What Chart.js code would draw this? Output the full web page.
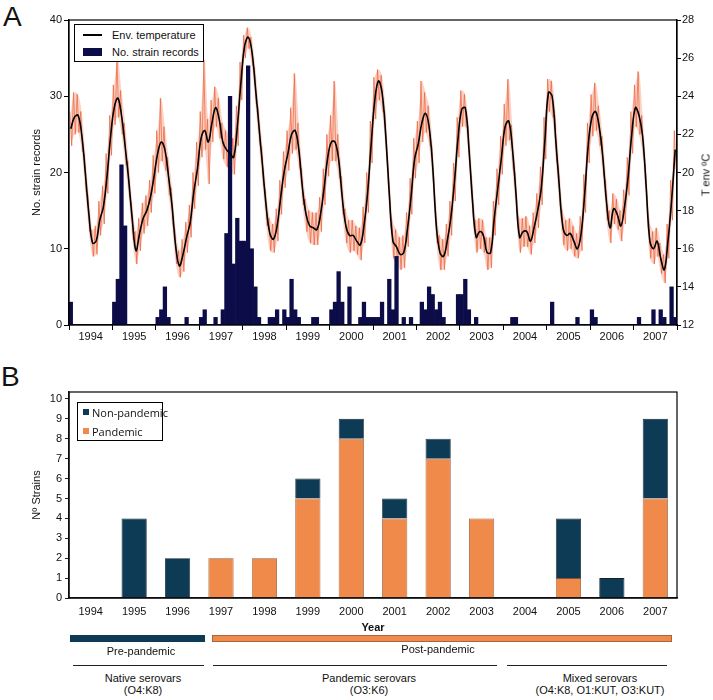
<!DOCTYPE html>
<html>
<head>
<meta charset="utf-8">
<script src="https://cdn.jsdelivr.net/npm/chart.js@4.4.1/dist/chart.umd.min.js"></script>
<style>
  body { margin: 0; background: #fff; font-family: 'Liberation Sans', Arial, sans-serif; color: #111; }
  #wrap { position: relative; width: 713px; height: 700px; overflow: hidden; }
  .abs { position: absolute; white-space: nowrap; line-height: 1; }
  canvas { position: absolute; left: 0; }
  .box { position: absolute; border: 1px solid #000; box-sizing: border-box; background: #fff; }
  .ctr { position: absolute; width: 240px; text-align: center; font-size: 11px; line-height: 12.3px; }
</style>
</head>
<body>
<div id="wrap">
  <div class="abs" style="left:3px;top:3px;font-size:28px">A</div>
  <canvas id="chartA" width="713" height="350" style="top:0"></canvas>

  <div class="box" style="left:74px;top:24px;width:130px;height:38px"></div>
  <div class="abs" style="left:83px;top:34px;width:19px;height:1.5px;background:#000"></div>
  <div class="abs" style="left:112px;top:29.6px;font-size:11px">Env. temperature</div>
  <div class="abs" style="left:83px;top:48px;width:19px;height:8px;background:#0c0c48"></div>
  <div class="abs" style="left:112px;top:46.6px;font-size:11px">No. strain records</div>
  <div class="abs" style="left:706px;top:174.5px;font-size:11px;transform:translate(-50%,-50%) rotate(-90deg)">T env ºC</div>

  <div class="abs" style="left:1px;top:363px;font-size:28px">B</div>
  <canvas id="chartB" width="713" height="280" style="top:360px"></canvas>

  <div class="box" style="left:77px;top:402px;width:86px;height:39px"></div>
  <div class="abs" style="left:83px;top:409px;width:6px;height:6px;background:#0d3a55"></div>
  <div class="abs" style="left:92px;top:406.6px;font-size:11px;font-family:'Open Sans',sans-serif">Non-pandemic</div>
  <div class="abs" style="left:83px;top:428px;width:6px;height:6px;background:#f08a4b"></div>
  <div class="abs" style="left:92px;top:425.6px;font-size:11px;font-family:'Open Sans',sans-serif">Pandemic</div>

  <div class="abs" style="left:70px;top:635px;width:135px;height:7px;background:#0d3a55"></div>
  <div class="abs" style="left:212px;top:635px;width:460px;height:7px;background:#f08a4b;border:1px solid #a8643a;box-sizing:border-box"></div>
  <div class="ctr" style="left:21px;top:644.5px">Pre-pandemic</div>
  <div class="ctr" style="left:318px;top:643px">Post-pandemic</div>

  <div class="abs" style="left:73px;top:664.5px;width:131px;height:1.5px;background:#222"></div>
  <div class="abs" style="left:213px;top:664.5px;width:284px;height:1.5px;background:#222"></div>
  <div class="abs" style="left:507px;top:664.5px;width:160px;height:1.5px;background:#222"></div>
  <div class="ctr" style="left:23px;top:671.5px">Native serovars<br>(O4:K8)</div>
  <div class="ctr" style="left:249px;top:671.5px">Pandemic serovars<br>(O3:K6)</div>
  <div class="ctr" style="left:480px;top:671.5px">Mixed serovars<br>(O4:K8, O1:KUT, O3:KUT)</div>
</div>

<script>
// ---- panel A: monthly records, Jan 1994 .. Dec 2007 ----
const yearLabels = ['1994', '1995', '1996', '1997', '1998', '1999', '2000',
                    '2001', '2002', '2003', '2004', '2005', '2006', '2007'];

const strainRecords = [
  3, 0, 0, 0, 0, 0, 0, 0, 0, 0, 0, 0,      // 1994
  3, 6, 21, 13, 0, 0, 0, 0, 0, 0, 0, 0,    // 1995
  1, 2, 5, 1, 0, 0, 0, 0, 1, 0, 0, 0,      // 1996
  1, 2, 0, 0, 1, 0, 2, 12, 30, 8, 14, 11,  // 1997
  11, 34, 10, 5, 1, 0, 0, 1, 1, 2, 0, 2,   // 1998
  1, 6, 2, 1, 0, 0, 0, 1, 1, 0, 0, 0,      // 1999
  2, 3, 7, 3, 0, 5, 0, 0, 1, 3, 1, 1,      // 2000
  1, 1, 3, 0, 6, 2, 9, 0, 1, 0, 1, 0,      // 2001
  0, 3, 2, 5, 4, 2, 3, 1, 0, 0, 0, 4,      // 2002
  4, 6, 2, 0, 1, 0, 0, 0, 0, 0, 0, 0,      // 2003
  0, 0, 1, 1, 0, 0, 0, 0, 0, 0, 0, 0,      // 2004
  0, 3, 0, 0, 0, 0, 0, 0, 1, 0, 0, 0,      // 2005
  2, 1, 0, 0, 0, 0, 0, 0, 0, 0, 0, 0,      // 2006
  0, 1, 0, 0, 0, 2, 0, 2, 1, 0, 5, 1       // 2007
];

// smoothed environmental temperature (ºC), one value per month
const envTemp = [
  22.3, 22.9, 23.0, 22.0, 20.0, 17.8, 16.3, 16.4, 17.5, 18.2, 19.8, 21.9,
  23.4, 23.9, 23.0, 21.4, 19.6, 17.5, 15.9, 16.8, 17.6, 18.0, 18.7, 19.8,
  21.0, 21.6, 21.2, 19.8, 18.2, 16.1, 15.1, 15.7, 16.6, 17.4, 19.0, 20.2,
  21.8, 22.2, 21.6, 22.6, 23.4, 22.8, 21.6, 21.2, 21.0, 20.8, 22.4, 24.7,
  26.6, 27.1, 26.4, 24.5, 22.4, 20.3, 18.2, 16.8, 16.5, 17.2, 18.7, 20.1,
  21.0, 22.0, 22.2, 21.2, 19.2, 17.8, 17.2, 17.1, 17.0, 17.8, 19.2, 20.8,
  21.6, 21.6, 20.7, 18.7, 17.2, 16.7, 16.7, 16.4, 16.2, 17.2, 18.9, 21.5,
  23.8, 24.8, 24.2, 22.0, 18.9, 16.4, 16.1, 15.7, 15.8, 17.0, 18.7, 20.7,
  21.5, 22.6, 23.1, 22.4, 20.3, 17.2, 15.8, 15.6, 16.4, 17.6, 19.5, 21.8,
  23.3, 23.4, 21.3, 18.5, 16.6, 16.9, 16.7, 15.8, 15.8, 17.6, 19.2, 20.8,
  22.4, 22.7, 21.3, 18.9, 16.6, 16.9, 16.9, 16.4, 17.1, 18.0, 19.2, 21.7,
  24.2, 24.0, 21.7, 19.2, 17.1, 16.7, 16.8, 16.4, 16.0, 16.8, 18.9, 21.5,
  22.9, 23.2, 22.4, 20.8, 18.5, 17.1, 18.1, 17.8, 17.2, 18.2, 19.8, 22.0,
  23.4, 23.0, 21.9, 19.2, 16.4, 16.0, 16.4, 15.5, 14.9, 16.4, 18.5, 21.2
];

// daily readings, kept as the monthly upper and lower extremes of the spread
const dailyHigh = [
  23.2, 24.2, 24.1, 23.2, 21.0, 18.8, 17.0, 17.2, 18.5, 19.3, 21.0, 23.0,
  24.6, 26.0, 24.3, 22.6, 20.6, 18.4, 16.9, 17.6, 18.4, 18.8, 19.6, 20.9,
  22.2, 23.9, 22.4, 20.8, 19.2, 17.0, 15.9, 16.5, 17.4, 18.3, 20.0, 21.6,
  23.2, 25.9, 22.8, 23.8, 24.5, 23.9, 22.6, 22.2, 21.9, 21.8, 23.5, 25.8,
  27.2, 27.6, 27.1, 25.5, 23.4, 21.3, 19.1, 17.6, 17.3, 18.1, 19.6, 21.1,
  22.2, 23.4, 25.2, 22.6, 20.2, 18.6, 18.0, 17.9, 17.9, 18.7, 20.2, 22.0,
  23.0, 24.8, 22.0, 19.8, 18.1, 17.5, 17.5, 17.2, 17.1, 18.2, 20.0, 22.7,
  25.0, 25.4, 25.1, 23.2, 20.0, 17.4, 17.0, 16.6, 16.7, 17.9, 19.7, 21.8,
  22.7, 24.8, 24.2, 23.5, 21.4, 18.2, 16.7, 16.5, 17.3, 18.5, 20.5, 22.9,
  24.3, 24.1, 22.4, 19.6, 17.5, 17.6, 17.5, 16.6, 16.6, 18.5, 20.2, 21.9,
  23.6, 24.9, 22.5, 20.0, 17.6, 17.6, 17.7, 17.2, 17.9, 18.9, 20.3, 22.9,
  24.9, 24.8, 23.0, 20.3, 18.0, 17.5, 17.6, 17.2, 16.8, 17.7, 19.9, 22.6,
  24.1, 24.7, 23.5, 21.9, 19.6, 18.0, 18.9, 18.6, 18.0, 19.1, 20.8, 23.2,
  24.6, 25.3, 23.0, 20.3, 17.4, 16.9, 17.1, 16.3, 15.7, 17.3, 19.6, 22.2
];
const dailyLow = [
  21.4, 22.0, 22.1, 21.1, 19.0, 16.9, 15.6, 15.7, 16.7, 17.3, 18.9, 20.9,
  22.5, 22.9, 22.0, 20.4, 18.7, 16.5, 15.2, 15.9, 16.8, 17.2, 17.9, 18.9,
  20.0, 20.6, 20.1, 18.8, 17.2, 15.2, 14.5, 14.8, 15.8, 16.6, 18.1, 19.3,
  20.8, 21.2, 19.4, 21.6, 22.4, 21.8, 20.7, 20.3, 20.1, 19.9, 21.4, 23.8,
  26.0, 26.5, 25.6, 23.6, 21.4, 19.3, 17.2, 15.9, 15.8, 16.4, 17.8, 19.2,
  20.1, 21.0, 21.2, 20.2, 18.3, 16.9, 16.3, 16.2, 16.2, 16.9, 18.3, 19.8,
  20.6, 20.6, 19.7, 17.8, 16.3, 15.8, 15.9, 15.7, 15.4, 16.3, 17.9, 20.5,
  22.8, 23.8, 23.2, 21.0, 17.9, 15.5, 15.2, 14.9, 15.0, 16.1, 17.8, 19.7,
  20.5, 21.6, 22.1, 21.4, 19.3, 16.3, 14.9, 14.9, 15.6, 16.7, 18.5, 20.8,
  22.4, 22.4, 20.4, 17.6, 15.8, 16.0, 15.8, 14.9, 15.0, 16.7, 18.3, 19.9,
  21.4, 21.7, 20.2, 17.9, 15.8, 16.1, 16.1, 15.7, 16.3, 17.1, 18.3, 20.7,
  23.2, 22.9, 20.6, 18.2, 16.2, 15.9, 16.0, 15.6, 15.5, 15.9, 17.9, 20.5,
  21.9, 22.2, 21.4, 19.8, 17.5, 16.3, 17.3, 17.0, 16.4, 17.3, 18.8, 21.0,
  22.4, 22.0, 20.9, 18.2, 15.5, 15.2, 15.6, 14.7, 14.2, 15.5, 17.5, 20.2
];

const recordTicks = [0, 10, 20, 30, 40];
const tempTicks = [12, 14, 16, 18, 20, 22, 24, 26, 28];

// ---- panel B: strains per year ----
const pandemic    = [0, 0, 0, 2, 2, 5, 8, 4, 7, 4, 0, 1, 0, 5];
const nonPandemic = [0, 4, 2, 0, 0, 1, 1, 1, 1, 0, 0, 3, 1, 4];
const strainTicks = [0, 1, 2, 3, 4, 5, 6, 7, 8, 9, 10];

Chart.defaults.font.family = "'Liberation Sans', Arial, sans-serif";
Chart.defaults.font.size = 11;
Chart.defaults.color = '#111';

const frame = {
  id: 'frame',
  afterDraw(chart) {
    const { ctx, chartArea: a } = chart;
    ctx.save();
    ctx.strokeStyle = '#000';
    ctx.lineWidth = 1.2;
    ctx.strokeRect(a.left, a.top, a.right - a.left, a.bottom - a.top);
    ctx.restore();
  }
};

const months = yearLabels.length * 12;
const yearTicks = [];
for (let v = 0; v <= months; v += 6) yearTicks.push(v);

const barPoints = strainRecords.map((v, i) => ({ x: i + 0.5, y: v }));
const tempPoints = envTemp.map((v, i) => ({ x: i + 0.5, y: v }));
const highPoints = dailyHigh.map((v, i) => ({ x: i + 0.5, y: v }));
const lowPoints = dailyLow.map((v, i) => ({ x: i + 0.5, y: v }));
const dailyPoints = [];
dailyHigh.forEach((v, i) => {
  dailyPoints.push({ x: i + 0.25, y: v }, { x: i + 0.75, y: dailyLow[i] });
});

new Chart(document.getElementById('chartA'), {
  type: 'bar',
  data: {
    datasets: [
      {
        type: 'line', label: 'Env. temperature', data: tempPoints, yAxisID: 'yT',
        borderColor: '#000', borderWidth: 1.6, pointRadius: 0, tension: 0.4, order: 1
      },
      {
        type: 'bar', label: 'No. strain records', data: barPoints, yAxisID: 'yN',
        backgroundColor: '#0c0c48', borderWidth: 0,
        barPercentage: 1, categoryPercentage: 1, order: 2
      },
      {
        type: 'line', label: 'daily', data: dailyPoints, yAxisID: 'yT',
        borderColor: 'rgba(236, 96, 56, 0.7)', borderWidth: 1, pointRadius: 0, tension: 0, order: 3
      },
      {
        type: 'line', label: 'daily high', data: highPoints, yAxisID: 'yT',
        borderWidth: 0, pointRadius: 0, tension: 0.3, fill: false, order: 4
      },
      {
        type: 'line', label: 'daily low', data: lowPoints, yAxisID: 'yT',
        borderWidth: 0, pointRadius: 0, tension: 0.3, order: 4,
        fill: '-1', backgroundColor: 'rgba(242, 130, 95, 0.35)'
      }
    ]
  },
  options: {
    responsive: false,
    animation: false,
    devicePixelRatio: 1,
    layout: { padding: { top: 20, left: 26, right: 0, bottom: 0 } },
    plugins: { legend: { display: false }, tooltip: { enabled: false } },
    scales: {
      x: {
        type: 'linear', min: 0, max: months, offset: false,
        afterBuildTicks: s => { s.ticks = yearTicks.map(v => ({ value: v })); },
        afterFit: s => { s.height = 25; },
        grid: {
          drawOnChartArea: false, offset: false, tickLength: 5,
          tickColor: c => (c.tick && c.tick.value % 12 === 0) ? '#000' : 'rgba(0,0,0,0)'
        },
        border: { color: '#000', width: 1.2 },
        ticks: {
          autoSkip: false, maxRotation: 0, padding: 0,
          callback: v => (v % 12 === 6) ? yearLabels[(v - 6) / 12] : ''
        }
      },
      yN: {
        position: 'left', min: 0, max: 40,
        afterBuildTicks: s => { s.ticks = recordTicks.map(v => ({ value: v })); },
        afterFit: s => { s.width = 43; },
        grid: { drawOnChartArea: false, tickLength: 5, tickColor: '#000' },
        border: { color: '#000', width: 1.2 },
        ticks: { padding: 2 },
        title: { display: true, text: 'No. strain records', padding: { top: 4, bottom: 0 } }
      },
      yT: {
        position: 'right', min: 12, max: 28,
        afterBuildTicks: s => { s.ticks = tempTicks.map(v => ({ value: v })); },
        afterFit: s => { s.width = 36; },
        grid: { drawOnChartArea: false, tickLength: 4, tickColor: '#000' },
        border: { color: '#000', width: 1.2 },
        ticks: { padding: 1 }
      }
    }
  },
  plugins: [frame]
});

new Chart(document.getElementById('chartB'), {
  type: 'bar',
  data: {
    labels: yearLabels,
    datasets: [
      {
        label: 'Pandemic', data: pandemic, backgroundColor: '#f08a4b',
        borderColor: '#8a5636', borderWidth: c => c.raw ? 0.8 : 0,
        barPercentage: 0.58, categoryPercentage: 1
      },
      {
        label: 'Non-pandemic', data: nonPandemic, backgroundColor: '#0d3a55',
        borderColor: '#14242e', borderWidth: c => c.raw ? 0.8 : 0,
        barPercentage: 0.58, categoryPercentage: 1
      }
    ]
  },
  options: {
    responsive: false,
    animation: false,
    devicePixelRatio: 1,
    layout: { padding: { top: 32, left: 26, right: 36, bottom: 0 } },
    plugins: { legend: { display: false }, tooltip: { enabled: false } },
    scales: {
      x: {
        stacked: true,
        afterFit: s => { s.height = 42; },
        grid: { display: false },
        border: { color: '#222', width: 1.5 },
        ticks: { padding: -1, maxRotation: 0, autoSkip: false },
        title: { display: true, text: 'Year', font: { weight: 'bold', size: 11 }, padding: { top: 2, bottom: 5 } }
      },
      y: {
        stacked: true, min: 0, max: 10.35,
        afterBuildTicks: s => { s.ticks = strainTicks.map(v => ({ value: v })); },
        afterFit: s => { s.width = 43; },
        grid: { drawOnChartArea: false, tickLength: 4, tickColor: '#222' },
        border: { color: '#222', width: 1.5 },
        ticks: { padding: 3 },
        title: { display: true, text: 'Nº Strains', padding: { top: 4, bottom: 0 } }
      }
    }
  },
  plugins: [frame]
});
</script>
</body>
</html>
